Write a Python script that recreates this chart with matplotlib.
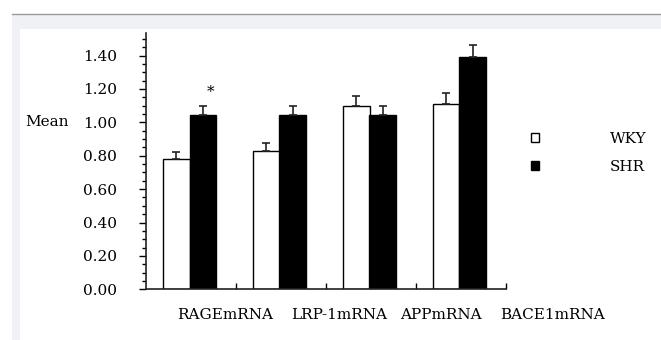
import numpy as np
import matplotlib
matplotlib.use('Agg')
import matplotlib.pyplot as plt
from matplotlib.patches import Rectangle, Patch
from matplotlib.ticker import MultipleLocator
import matplotlib.transforms as mtransforms

# Dados
genes = ['RAGEmRNA', 'LRP-1mRNA', 'APPmRNA', 'BACE1mRNA']
wky = [0.78, 0.83, 1.10, 1.11]
wky_err = [0.04, 0.045, 0.055, 0.065]
shr = [1.045, 1.045, 1.045, 1.39]
shr_err = [0.055, 0.055, 0.055, 0.075]
grupos = ['WKY', 'SHR']

plt.rcParams['font.family'] = ['DejaVu Serif']
plt.rcParams['font.size'] = 11

fig = plt.figure(figsize=(6.61, 3.40), dpi=100)

# moldura cinza de fundo
fig.patches.append(Rectangle((12/661, 0), 1, (340-14)/340, transform=fig.transFigure,
                             facecolor='#f0f1f7', edgecolor='none', zorder=-3))
fig.patches.append(Rectangle((20/661, 0), 1, (340-29)/340, transform=fig.transFigure,
                             facecolor='white', edgecolor='none', zorder=-2))
fig.lines.append(plt.Line2D([12/661, 1], [(340-14)/340]*2, transform=fig.transFigure,
                            color='#9a9a9a', lw=1))

ax = fig.add_axes([146/661, (340-289.3)/340, 359.7/661, 256.3/340])
ax.patch.set_visible(False)

x = np.arange(len(genes))
w = 0.295
off = 0.147
cx = x - 0.015

ax.bar(cx - off, wky, w, color='white', edgecolor='black', linewidth=1, label=grupos[0], zorder=2)
ax.bar(cx + off, shr, w, color='black', edgecolor='black', linewidth=1, label=grupos[1], zorder=2)
ax.errorbar(cx - off, wky, yerr=[np.zeros(4), wky_err], fmt='none', ecolor='#222222',
            elinewidth=1.2, capsize=3, capthick=1.2, zorder=3)
ax.errorbar(cx + off, shr, yerr=[np.zeros(4), shr_err], fmt='none', ecolor='#222222',
            elinewidth=1.2, capsize=3, capthick=1.2, zorder=3)

# asterisco
ax.text(cx[0] + off + 0.09, shr[0] + shr_err[0] + 0.08, '*', ha='center', va='center', fontsize=11)

ax.set_xlim(-0.5, 3.5)
ax.set_ylim(0, 1.535)

for s in ['top', 'right']:
    ax.spines[s].set_visible(False)
for s in ['left', 'bottom']:
    ax.spines[s].set_color('#222222')
    ax.spines[s].set_linewidth(1.2)

ax.yaxis.set_major_locator(MultipleLocator(0.2))
ax.yaxis.set_minor_locator(MultipleLocator(0.05))
ax.yaxis.set_major_formatter(plt.FormatStrFormatter('%.2f'))
ax.tick_params(axis='y', which='major', direction='out', length=5, width=1, pad=16, labelsize=11)
ax.tick_params(axis='y', which='minor', direction='out', length=3, width=1)

ax.set_xticks(x + 0.5)
ax.set_xticklabels([])
ax.tick_params(axis='x', which='major', direction='in', length=4, width=1)

# rótulos das categorias
trans = mtransforms.blended_transform_factory(ax.transData, ax.transAxes)
label_x = [0.375, 1.647, 2.781, 4.02]
for lx, g in zip(label_x, genes):
    ax.text(lx, -0.10, g, transform=trans, ha='center', va='center', fontsize=11)

fig.text(25/661, (340-122)/340, 'Mean', ha='left', va='center', fontsize=11)

handles = [Patch(facecolor='white', edgecolor='black', linewidth=1),
           Patch(facecolor='black', edgecolor='black', linewidth=1)]
fig.legend(handles, grupos, loc='upper left', bbox_to_anchor=(531/661, (340-132)/340),
           frameon=False, handlelength=0.55, handleheight=0.6, handletextpad=4.6,
           labelspacing=0.9, fontsize=11, borderaxespad=0, borderpad=0)

plt.savefig('out.png', dpi=100)
